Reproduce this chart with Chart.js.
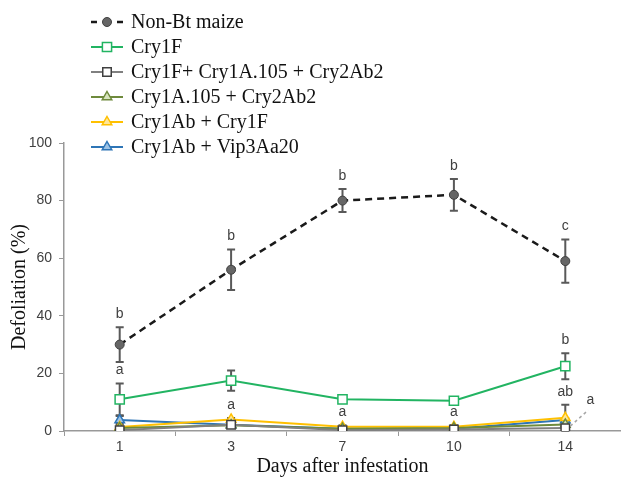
<!DOCTYPE html>
<html>
<head>
<meta charset="utf-8">
<script src="https://cdn.jsdelivr.net/npm/chart.js@4.4.1/dist/chart.umd.min.js"></script>
<style>
html, body { margin: 0; padding: 0; background: #fff; }
#wrap { width: 621px; height: 477px; }
</style>
</head>
<body>
<div id="wrap"><canvas id="myChart" width="621" height="477"></canvas></div>
<script>
// days after infestation (x categories)
const days = ['1', '3', '7', '10', '14'];

// mean defoliation (%) and error per treatment
const nonBt = [30, 56, 80, 82, 59];
const nonBtErr = [6, 7, 4, 5.5, 7.5];
const nonBtLetters = ['b', 'b', 'b', 'b', 'c'];

const cry1F = [11, 17.5, 11, 10.5, 22.5];
const cry1FErr = [5.5, 3.5, 0, 0, 4.5];
const cry1FLetters = ['a', '', '', '', 'b'];

const cry1FTriple = [0.3, 2.2, 0.3, 0.5, 1];
const cry1FTripleSide = ['', '', '', '', 'a'];

const cry1A105 = [1, 2, 0.8, 1, 2.3];

const cry1AbCry1F = [1.4, 4, 1.5, 1.5, 4.6];
const cry1AbCry1FErr = [0.5, 0.5, 0.5, 0.5, 4.5];
const lowLetters = ['', 'a', 'a', 'a', 'ab'];

const cry1AbVip = [3.8, 2.2, 0.8, 0.8, 3.8];
const cry1AbVipErr = [1.4, 0.4, 0, 0, 0.5];

const SERIF = '"Liberation Serif", "Times New Roman", serif';
const SANS = '"Liberation Sans", Arial, sans-serif';

function drawMarker(ctx, style, x, y, r) {
    ctx.beginPath();
    if (style == 'circle') {
        ctx.arc(x, y, r, 0, Math.PI * 2);
    } else if (style == 'rect') {
        var s = r * Math.SQRT1_2;
        ctx.rect(x - s, y - s, 2 * s, 2 * s);
    } else {
        ctx.moveTo(x, y - r);
        ctx.lineTo(x + r * 0.866, y + r * 0.5);
        ctx.lineTo(x - r * 0.866, y + r * 0.5);
        ctx.closePath();
    }
    ctx.fill();
    ctx.stroke();
}

// error bars under the lines
const errorBarPlugin = {
    id: 'errorBars',
    beforeDatasetsDraw(chart) {
        const ctx = chart.ctx;
        const yScale = chart.scales.y;
        ctx.save();
        ctx.strokeStyle = '#595959';
        ctx.lineWidth = 2;
        chart.data.datasets.forEach(function (ds, i) {
            if (!ds.errorBars) return;
            var meta = chart.getDatasetMeta(i);
            meta.data.forEach(function (pt, j) {
                var e = ds.errorBars[j];
                if (!e) return;
                var top = yScale.getPixelForValue(ds.data[j] + e);
                var bot = yScale.getPixelForValue(Math.max(ds.data[j] - e, 0));
                ctx.beginPath();
                ctx.moveTo(pt.x, top); ctx.lineTo(pt.x, bot);
                ctx.moveTo(pt.x - 4, top); ctx.lineTo(pt.x + 4, top);
                ctx.moveTo(pt.x - 4, bot); ctx.lineTo(pt.x + 4, bot);
                ctx.stroke();
            });
        });
        ctx.restore();
    }
};

// significance letters + legend
const labelPlugin = {
    id: 'letters',
    afterDraw(chart) {
        const ctx = chart.ctx;
        const yScale = chart.scales.y;
        ctx.save();
        ctx.font = '14px ' + SANS;
        ctx.fillStyle = '#404040';
        ctx.textAlign = 'center';
        ctx.textBaseline = 'middle';
        chart.data.datasets.forEach(function (ds, i) {
            var meta = chart.getDatasetMeta(i);
            if (ds.letters) {
                meta.data.forEach(function (pt, j) {
                    if (!ds.letters[j]) return;
                    var e = ds.errorBars ? ds.errorBars[j] : 0;
                    var top = yScale.getPixelForValue(ds.data[j] + e);
                    ctx.fillText(ds.letters[j], pt.x, top - 13);
                });
            }
            if (ds.sideLetters) {
                meta.data.forEach(function (pt, j) {
                    if (!ds.sideLetters[j]) return;
                    ctx.save();
                    ctx.strokeStyle = '#a6a6a6';
                    ctx.lineWidth = 1.5;
                    ctx.setLineDash([3, 3]);
                    ctx.beginPath();
                    ctx.moveTo(pt.x + 5, pt.y - 2);
                    ctx.lineTo(pt.x + 23, pt.y - 18);
                    ctx.stroke();
                    ctx.restore();
                    ctx.fillText(ds.sideLetters[j], pt.x + 25, pt.y - 28);
                });
            }
        });

        // legend, one row per dataset
        ctx.textAlign = 'left';
        ctx.font = '20px ' + SERIF;
        chart.data.datasets.forEach(function (ds, i) {
            var y = 22 + i * 25;
            ctx.strokeStyle = ds.borderColor;
            ctx.lineWidth = ds.borderWidth;
            ctx.beginPath();
            if (ds.borderDash) {
                ctx.moveTo(91, y); ctx.lineTo(97, y);
                ctx.moveTo(117, y); ctx.lineTo(123, y);
            } else {
                ctx.moveTo(91, y); ctx.lineTo(123, y);
            }
            ctx.stroke();
            ctx.fillStyle = ds.pointBackgroundColor;
            ctx.strokeStyle = ds.pointBorderColor;
            ctx.lineWidth = ds.pointBorderWidth;
            drawMarker(ctx, ds.pointStyle, 107, y, ds.pointRadius);
            ctx.fillStyle = '#111';
            ctx.fillText(ds.label, 131, y + 1);
        });
        ctx.restore();
    }
};

var data_things = {
    labels: days,
    datasets: [
        {
            label: 'Non-Bt maize',
            data: nonBt, errorBars: nonBtErr, letters: nonBtLetters,
            borderColor: '#1a1a1a', borderWidth: 2.5, borderDash: [7, 5],
            pointStyle: 'circle', pointRadius: 4.5, pointBorderWidth: 1,
            pointBackgroundColor: '#666666', pointBorderColor: '#404040'
        },
        {
            label: 'Cry1F',
            data: cry1F, errorBars: cry1FErr, letters: cry1FLetters,
            borderColor: '#22b462', borderWidth: 2,
            pointStyle: 'rect', pointRadius: 6.5, pointBorderWidth: 1.5,
            pointBackgroundColor: '#ffffff', pointBorderColor: '#22b462'
        },
        {
            label: 'Cry1F+ Cry1A.105 + Cry2Ab2',
            data: cry1FTriple, sideLetters: cry1FTripleSide,
            borderColor: '#808080', borderWidth: 2,
            pointStyle: 'rect', pointRadius: 6, pointBorderWidth: 1.5,
            pointBackgroundColor: '#ffffff', pointBorderColor: '#404040'
        },
        {
            label: 'Cry1A.105 + Cry2Ab2',
            data: cry1A105,
            borderColor: '#6e8a3c', borderWidth: 2,
            pointStyle: 'triangle', pointRadius: 5.5, pointBorderWidth: 1.5,
            pointBackgroundColor: '#d7e4bd', pointBorderColor: '#6e8a3c'
        },
        {
            label: 'Cry1Ab + Cry1F',
            data: cry1AbCry1F, errorBars: cry1AbCry1FErr, letters: lowLetters,
            borderColor: '#ffc000', borderWidth: 2,
            pointStyle: 'triangle', pointRadius: 5.5, pointBorderWidth: 1.5,
            pointBackgroundColor: '#ffe699', pointBorderColor: '#ffc000'
        },
        {
            label: 'Cry1Ab + Vip3Aa20',
            data: cry1AbVip, errorBars: cry1AbVipErr,
            borderColor: '#2e75b6', borderWidth: 2,
            pointStyle: 'triangle', pointRadius: 5.5, pointBorderWidth: 1.5,
            pointBackgroundColor: '#9dc3e6', pointBorderColor: '#2e75b6'
        }
    ]
};

var config = {
    type: 'line',
    data: data_things,
    options: {
        responsive: false,
        animation: false,
        devicePixelRatio: 1,
        // axis runs a little past the right edge, like the original
        layout: { autoPadding: false, padding: { top: 143, right: -3, left: 0, bottom: 0 } },
        plugins: { legend: { display: false }, tooltip: { enabled: false } },
        elements: { line: { tension: 0 } },
        scales: {
            x: {
                type: 'category',
                offset: true,
                afterFit: function (scale) { scale.height = 46; },
                grid: { offset: true, drawOnChartArea: false, drawTicks: true, tickLength: 5, color: '#999' },
                border: { color: '#999', width: 1.5 },
                ticks: { color: '#404040', font: { family: SANS, size: 14 }, padding: 3 },
                title: {
                    display: true, text: 'Days after infestation', color: '#111',
                    font: { family: SERIF, size: 20, lineHeight: 1 }, padding: { top: 0, bottom: 0 }
                }
            },
            y: {
                min: 0, max: 100,
                afterFit: function (scale) { scale.width = 64; },
                afterBuildTicks: function (scale) { scale.ticks = [0, 20, 40, 60, 80, 100].map(function (v) { return { value: v }; }); },
                grid: { drawOnChartArea: false, drawTicks: true, tickLength: 5, color: '#999' },
                border: { color: '#999', width: 1.5 },
                ticks: { color: '#404040', font: { family: SANS, size: 14 }, padding: 7 },
                title: {
                    display: true, text: 'Defoliation (%)', color: '#111',
                    font: { family: SERIF, size: 20, lineHeight: 1.2 }, padding: { top: 8, bottom: 0 }
                }
            }
        }
    },
    plugins: [errorBarPlugin, labelPlugin]
};

var myChart = new Chart(document.getElementById('myChart'), config);
</script>
</body>
</html>
